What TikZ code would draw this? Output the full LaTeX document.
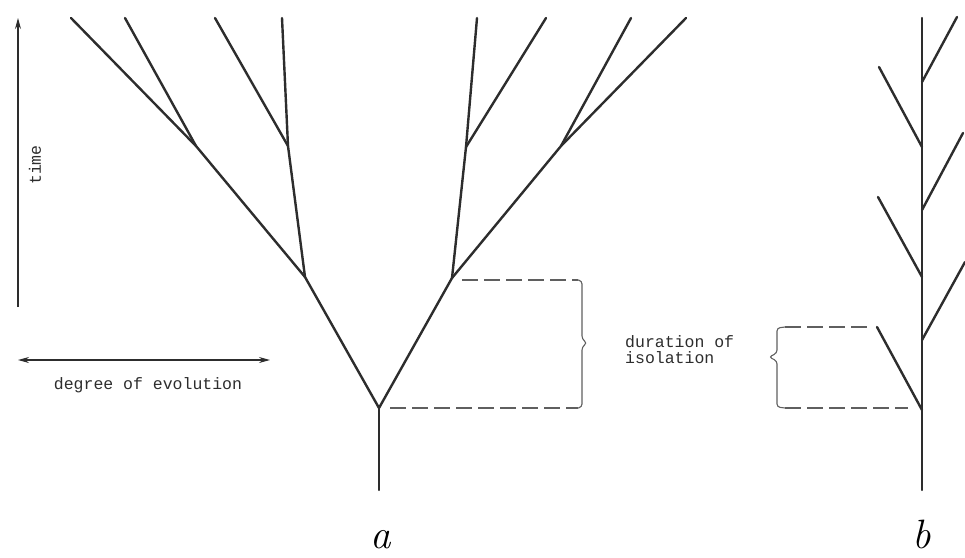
\documentclass[tikz,border=0pt]{standalone}
\usepackage{fontspec}
\setmonofont{Liberation Mono}
\usetikzlibrary{arrows.meta,positioning}
\definecolor{inkgray}{RGB}{45,45,45}
\definecolor{dashgray}{RGB}{95,95,95}

\begin{document}
\begin{tikzpicture}[x=1pt,y=-1pt,
      br/.style={draw=inkgray,line width=2.4pt,line cap=round},
      du/.style={draw=dashgray,line width=1.1pt,dash pattern=on 16pt off 6pt},
      bc/.style={draw=dashgray,line width=1.1pt,rounded corners=3pt},
      ax/.style={draw=inkgray,line width=1.3pt},
      tip/.style={-{Stealth[length=11pt,width=6pt]}},
      lb/.style={font=\ttfamily\fontsize{16.5}{16}\selectfont,text=inkgray,inner sep=0pt},
      tag/.style={font=\fontsize{41}{41}\selectfont\itshape,text=black,inner sep=0pt,anchor=base}]
      \useasboundingbox (0,0) rectangle (965,557);

      % axes
      \coordinate (t0) at (18,307); \coordinate (t1) at (18,18);
      \coordinate (e0) at (18,360); \coordinate (e1) at (270,360);
      \draw[ax,tip] (t0) -- (t1);
      \draw[ax,{Stealth[length=11pt,width=6pt]}-{Stealth[length=11pt,width=6pt]}] (e0) -- (e1);
      \node[lb,rotate=90] (time) at (35,165) {time};
      \node[lb] (deg) at (148,385) {degree of evolution};

      % tree a
      \coordinate (a0) at (379,490);
      \coordinate (a) at (379,408);
      \coordinate (l) at (305,277);
      \coordinate (r) at (452,278);
      \coordinate (ll) at (196,146);
      \coordinate (lr) at (288,146);
      \coordinate (rl) at (466,147);
      \coordinate (rr) at (561,146);
      \foreach \n/\x in {p1/71,p2/125,p3/215,p4/282,p5/477,p6/546,p7/631,p8/686}
        \coordinate (\n) at (\x,18);
      \draw[br] (a0) -- (a);
      \foreach \u/\v in {a/l,a/r,l/ll,l/lr,r/rl,r/rr,ll/p1,ll/p2,lr/p3,lr/p4,rl/p5,rl/p6,rr/p7,rr/p8}
        \draw[br] (\u) -- (\v);

      % isolation in a
      \coordinate (d1) at (462,280); \coordinate (d2) at (390,408);
      \coordinate (c1) at (578,280); \coordinate (c2) at (578,408);
      \draw[du] (d1) -- (c1);
      \draw[du] (d2) -- (c2);
      \draw[bc] (c1) -- (582,281) -- (582,339) -- (587,343) -- (582,347) -- (582,407) -- (c2);

      % tree b
      \coordinate (b0) at (922,490);
      \coordinate (bt) at (922,18);
      \draw[br] (b0) -- (bt);
      \foreach \i/\y/\x/\z in {1/410/877/327,2/340/965/262,3/277/878/197,4/210/963/133,5/147/879/67,6/82/957/17} {
        \coordinate (f\i) at (922,\y);
        \coordinate (s\i) at (\x,\z);
        \draw[br] (f\i) -- (s\i);
      }

      % isolation in b
      \coordinate (g1) at (868,327); \coordinate (g2) at (908,408);
      \coordinate (h1) at (785,327); \coordinate (h2) at (785,408);
      \draw[du] (h1) -- (g1);
      \draw[du] (h2) -- (g2);
      \draw[bc] (h1) -- (777,328) -- (777,353) -- (769,357) -- (777,361) -- (777,407) -- (h2);
      \node[lb,anchor=west,align=left] (iso) at (625,350) {duration of\\isolation};

      % labels
      \node[tag] (ta) at (381,548) {a};
      \node[tag] (tb) at (922,548) {b};
    \end{tikzpicture}
\end{document}
